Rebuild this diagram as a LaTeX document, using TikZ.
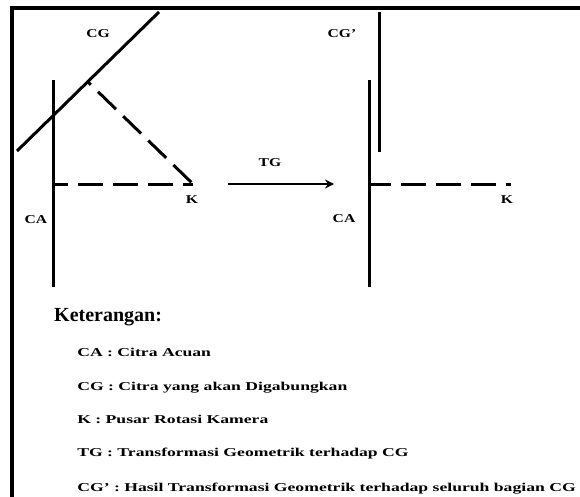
\documentclass[tikz,border=0pt]{standalone}
\usepackage{fontspec}
\setmainfont{Liberation Serif}
\usetikzlibrary{arrows.meta}
\begin{document}
\begin{tikzpicture}[x=1pt,y=-1pt,
  ln/.style={line width=3pt},
  dsh/.style={line width=3pt,dash pattern=on 25pt off 10pt},
  lbl/.style={font=\fontsize{12}{14}\selectfont\bfseries,inner sep=0pt,xscale=1.3},
  leg/.style={font=\fontsize{12}{14}\selectfont\bfseries,inner sep=0pt,anchor=base west,xscale=1.47},
  ]
\useasboundingbox (0,0) rectangle (580,497);
% frame
\coordinate (f1) at (12,497);
\coordinate (f2) at (12,8);
\coordinate (f3) at (580,8);
\draw[line width=3.5pt] (f1) -- (f2) -- (f3);
% left scene
\coordinate (caT) at (53,80);
\coordinate (caB) at (53,287);
\draw[ln] (caT) -- (caB);
\coordinate (cgA) at (17,151);
\coordinate (cgB) at (159,12);
\draw[ln] (cgA) -- (cgB);
\coordinate (foot) at (88,82);
\coordinate (K1) at (193,184);
\coordinate (o1) at (53,184);
\draw[dsh,dash phase=21pt] (foot) -- (K1);
\draw[dsh,dash phase=10pt] (o1) -- (K1);
\node[lbl] (lcg) at (98,34) {CG};
\node[lbl] (lk) at (192,200) {K};
\node[lbl] (lca) at (36,220) {CA};
% arrow
\coordinate (a1) at (228,184);
\coordinate (a2) at (334,184);
\draw[line width=2.5pt,-{Stealth[length=9pt,width=9pt]}] (a1) -- (a2);
\node[lbl] (ltg) at (270,163) {TG};
% right scene
\coordinate (cgpT) at (379,12);
\coordinate (cgpB) at (379,152);
\draw[ln] (cgpT) -- (cgpB);
\coordinate (ca2T) at (369,80);
\coordinate (ca2B) at (369,287);
\draw[ln] (ca2T) -- (ca2B);
\coordinate (o2) at (369,184);
\coordinate (K2) at (511,184);
\draw[dsh,dash phase=3pt] (o2) -- (K2);
\node[lbl] (lcgp) at (342,34) {CG'};
\node[lbl] (lca2) at (344,219) {CA};
\node[lbl] (lk2) at (507,200) {K};
% legend
\node[font=\fontsize{20}{24}\selectfont\bfseries,inner sep=0pt,anchor=base west] (ket) at (54,321) {Keterangan:};
\node[leg] (l1) at (77,356) {CA : Citra Acuan};
\node[leg] (l2) at (77,390) {CG : Citra yang akan Digabungkan};
\node[leg] (l3) at (77,423) {K : Pusar Rotasi Kamera};
\node[leg] (l4) at (77,456) {TG : Transformasi Geometrik terhadap CG};
\node[leg] (l5) at (77,491) {CG' : Hasil  Transformasi Geometrik terhadap seluruh bagian CG};
\end{tikzpicture}
\end{document}
